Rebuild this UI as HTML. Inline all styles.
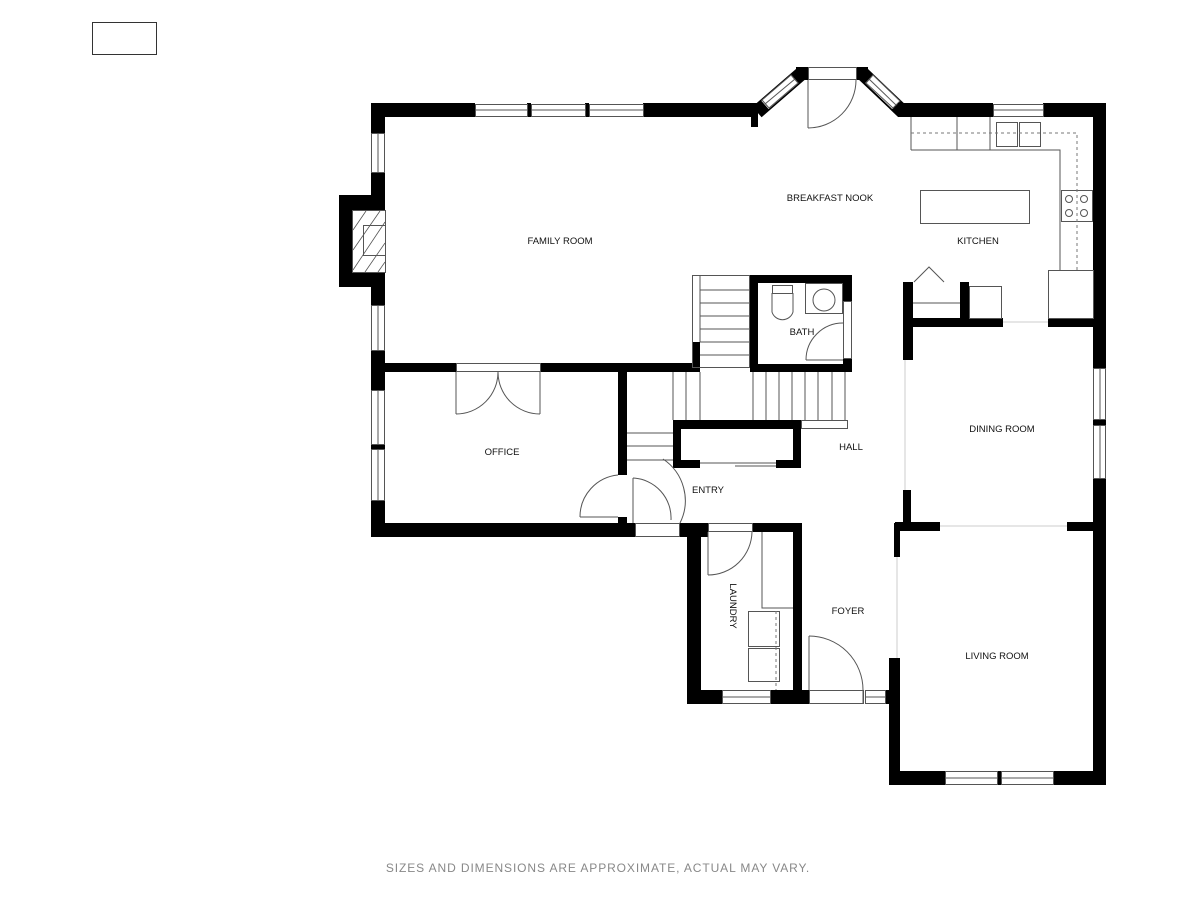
<!DOCTYPE html>
<html><head><meta charset="utf-8"><style>
html,body{margin:0;padding:0;background:#fff;width:1200px;height:900px;overflow:hidden}
svg{display:block}
text{font-family:"Liberation Sans",sans-serif;font-size:9.5px;fill:#111}
</style></head><body>
<svg width="1200" height="900" viewBox="0 0 1200 900" xmlns="http://www.w3.org/2000/svg">
<rect x="92.5" y="22.5" width="64" height="32" fill="none" stroke="#333" stroke-width="1"/>
<g stroke-linecap="butt">
<line x1="757" y1="112" x2="802" y2="73" stroke="#000" stroke-width="14"/>
<line x1="765" y1="105" x2="795" y2="79" stroke="#fff" stroke-width="11"/>
<line x1="862" y1="73" x2="903" y2="112" stroke="#000" stroke-width="14"/>
<line x1="869" y1="79" x2="896" y2="105" stroke="#fff" stroke-width="11"/>
</g>
<g fill="none" stroke="#555" stroke-width="1">
<polygon points="762,100 791,75 798,83 769,108"/>
<line x1="765" y1="104" x2="795" y2="79"/>
<polygon points="873,75 900,101 893,108 866,83"/>
<line x1="869" y1="79" x2="896" y2="105"/>
</g>
<g fill="#000">
<rect x="371" y="103" width="104" height="14"/>
<rect x="643" y="103" width="115" height="14"/>
<rect x="751" y="103" width="7" height="24"/>
<rect x="527" y="103" width="4" height="14"/>
<rect x="585" y="103" width="4" height="14"/>
<rect x="796" y="67" width="12" height="13"/>
<rect x="856" y="67" width="12" height="13"/>
<rect x="898" y="103" width="95" height="14"/>
<rect x="1043" y="103" width="63" height="14"/>
<rect x="1093" y="103" width="13" height="265"/>
<rect x="1093" y="419" width="13" height="6"/>
<rect x="1093" y="478" width="13" height="307"/>
<rect x="371" y="103" width="14" height="30"/>
<rect x="371" y="172" width="14" height="133"/>
<rect x="339" y="195" width="46" height="92"/>
<rect x="371" y="350" width="14" height="40"/>
<rect x="371" y="444" width="14" height="5"/>
<rect x="371" y="500" width="14" height="37"/>
<rect x="371" y="363" width="85" height="9"/>
<rect x="540" y="363" width="160" height="9"/>
<rect x="692" y="342" width="8" height="30"/>
<rect x="750" y="275" width="102" height="8"/>
<rect x="750" y="275" width="8" height="97"/>
<rect x="750" y="364" width="102" height="8"/>
<rect x="843" y="275" width="9" height="26"/>
<rect x="843" y="358" width="9" height="14"/>
<rect x="618" y="372" width="9" height="103"/>
<rect x="618" y="517" width="9" height="20"/>
<rect x="371" y="523" width="264" height="14"/>
<rect x="673" y="420" width="128" height="9"/>
<rect x="673" y="420" width="8" height="48"/>
<rect x="793" y="420" width="8" height="48"/>
<rect x="673" y="460" width="27" height="8"/>
<rect x="776" y="460" width="25" height="8"/>
<rect x="680" y="523" width="28" height="14"/>
<rect x="687" y="523" width="14" height="181"/>
<rect x="752" y="523" width="50" height="9"/>
<rect x="793" y="523" width="9" height="181"/>
<rect x="687" y="690" width="35" height="14"/>
<rect x="770" y="690" width="39" height="14"/>
<rect x="885" y="690" width="15" height="14"/>
<rect x="903" y="282" width="10" height="78"/>
<rect x="960" y="282" width="9" height="38"/>
<rect x="903" y="318" width="100" height="9"/>
<rect x="1048" y="318" width="52" height="9"/>
<rect x="903" y="490" width="8" height="40"/>
<rect x="895" y="522" width="45" height="9"/>
<rect x="1067" y="522" width="33" height="9"/>
<rect x="894" y="523" width="6" height="34"/>
<rect x="889" y="658" width="11" height="127"/>
<rect x="889" y="771" width="56" height="14"/>
<rect x="1053" y="771" width="53" height="14"/>
<rect x="997" y="771" width="4" height="14"/>
</g>
<g fill="none" stroke="#555" stroke-width="1">
<rect x="475.5" y="104.5" width="52" height="12"/><line x1="475" y1="110" x2="527" y2="110"/>
<rect x="531.5" y="104.5" width="54" height="12"/><line x1="531" y1="110" x2="585" y2="110"/>
<rect x="589.5" y="104.5" width="54" height="12"/><line x1="589" y1="110" x2="643" y2="110"/>
<rect x="993.5" y="104.5" width="50" height="12"/><line x1="993" y1="110" x2="1043" y2="110"/>
<rect x="371.5" y="133.5" width="13" height="39"/><line x1="378" y1="133" x2="378" y2="172"/>
<rect x="371.5" y="305.5" width="13" height="45"/><line x1="378" y1="305" x2="378" y2="350"/>
<rect x="371.5" y="390.5" width="13" height="54"/><line x1="378" y1="390" x2="378" y2="444"/>
<rect x="371.5" y="449.5" width="13" height="51"/><line x1="378" y1="449" x2="378" y2="500"/>
<rect x="1093.5" y="368.5" width="12" height="51"/><line x1="1100" y1="368" x2="1100" y2="419"/>
<rect x="1093.5" y="425.5" width="12" height="53"/><line x1="1100" y1="425" x2="1100" y2="478"/>
<rect x="945.5" y="771.5" width="52" height="13"/><line x1="945" y1="778" x2="997" y2="778"/>
<rect x="1001.5" y="771.5" width="52" height="13"/><line x1="1001" y1="778" x2="1053" y2="778"/>
<rect x="722.5" y="690.5" width="48" height="13"/><line x1="722" y1="697" x2="770" y2="697"/>
<rect x="865.5" y="690.5" width="20" height="13"/><line x1="865" y1="697" x2="885" y2="697"/>
<rect x="808.5" y="67.5" width="48" height="12"/>
<line x1="808" y1="80" x2="808" y2="128"/><path d="M808,128 A48,48 0 0 0 856,80"/>
<rect x="456.5" y="363.5" width="84" height="8"/>
<line x1="456" y1="372" x2="456" y2="414"/><path d="M456,414 A42,42 0 0 0 498,372"/>
<line x1="540" y1="372" x2="540" y2="414"/><path d="M540,414 A42,42 0 0 1 498,372"/>
<line x1="580" y1="517" x2="618" y2="517"/><path d="M580,517 A42,42 0 0 1 618,475"/>
<line x1="633" y1="478" x2="633" y2="523"/><path d="M633,478 A40,40 0 0 1 671,520"/>
<path d="M663,459 A50,50 0 0 1 680,523"/>
<rect x="635.5" y="523.5" width="44" height="13"/>
<line x1="708" y1="532" x2="708" y2="575"/><path d="M708,575 A44,44 0 0 0 752,532"/>
<rect x="708.5" y="523.5" width="44" height="8"/>
<line x1="809" y1="636" x2="809" y2="690"/><path d="M809,636 A54,54 0 0 1 863,690"/>
<line x1="863" y1="690" x2="863" y2="704"/>
<rect x="809.5" y="690.5" width="54" height="13"/>
<line x1="806" y1="360" x2="843" y2="360"/>
<path d="M806,360 A37,37 0 0 1 843,323"/>
<rect x="843.5" y="301.5" width="8" height="57"/>
<line x1="700" y1="463" x2="776" y2="463"/><line x1="735" y1="466" x2="776" y2="466"/>
<rect x="352.5" y="210.5" width="33" height="62" fill="#fff"/>
<rect x="363.5" y="225.5" width="22" height="30"/>
<rect x="692.5" y="275.5" width="57" height="92"/>
<line x1="700" y1="275" x2="700" y2="342"/>
<line x1="700" y1="290" x2="750" y2="290"/><line x1="700" y1="303" x2="750" y2="303"/>
<line x1="700" y1="316" x2="750" y2="316"/><line x1="700" y1="329" x2="750" y2="329"/>
<line x1="700" y1="342" x2="750" y2="342"/><line x1="700" y1="355" x2="750" y2="355"/>
<line x1="673" y1="372" x2="673" y2="420"/>
<line x1="686" y1="372" x2="686" y2="420"/><line x1="700" y1="372" x2="700" y2="420"/>
<line x1="753" y1="372" x2="753" y2="420"/><line x1="766" y1="372" x2="766" y2="420"/>
<line x1="779" y1="372" x2="779" y2="420"/><line x1="792" y1="372" x2="792" y2="420"/>
<line x1="805" y1="372" x2="805" y2="420"/><line x1="818" y1="372" x2="818" y2="420"/>
<line x1="832" y1="372" x2="832" y2="420"/><line x1="845" y1="372" x2="845" y2="420"/>
<rect x="801.5" y="420.5" width="46" height="8"/>
<line x1="627" y1="433" x2="673" y2="433"/><line x1="627" y1="446" x2="673" y2="446"/><line x1="627" y1="460" x2="673" y2="460"/>
<rect x="772.5" y="285.5" width="20" height="8"/>
<path d="M772,293 L772,312 A11,11 0 0 0 793,312 L793,293"/>
<rect x="805.5" y="283.5" width="37" height="30"/>
<circle cx="824" cy="300" r="11"/>
<path d="M911,150 L1060,150 L1060,270"/>
<line x1="911" y1="117" x2="911" y2="150"/>
<line x1="957" y1="117" x2="957" y2="150"/><line x1="990" y1="117" x2="990" y2="150"/>
<rect x="996.5" y="122.5" width="21" height="24"/><rect x="1019.5" y="122.5" width="21" height="24"/>
<rect x="920.5" y="190.5" width="109" height="33"/>
<rect x="1061.5" y="190.5" width="31" height="31"/>
<circle cx="1069" cy="199" r="3.5"/><circle cx="1084" cy="199" r="3.5"/>
<circle cx="1069" cy="213" r="3.5"/><circle cx="1084" cy="213" r="3.5"/>
<rect x="1048.5" y="270.5" width="45" height="48"/>
<rect x="969.5" y="286.5" width="32" height="32"/>
<path d="M914,282 L929,267 L944,282"/>
<line x1="913" y1="303" x2="960" y2="303"/>
<path d="M762,532 L762,608 L793,608"/>
<rect x="748.5" y="611.5" width="31" height="35"/><rect x="748.5" y="648.5" width="31" height="33"/>
</g>
<g fill="none" stroke="#777" stroke-width="1" stroke-dasharray="3,3">
<path d="M911,133 L1077,133 L1077,270"/>
<line x1="776" y1="611" x2="776" y2="690"/>
</g>
<g fill="none" stroke="#555" stroke-width="0.8">
<path d="M353,230 L366,211 M353,250 L380,211 M353,270 L385,222 M365,272 L385,243 M378,272 L385,262"/>
</g>
<g fill="none" stroke="#ccc" stroke-width="1">
<line x1="905" y1="360" x2="905" y2="490"/>
<line x1="940" y1="526" x2="1067" y2="526"/>
<line x1="897" y1="557" x2="897" y2="658"/>
<line x1="1003" y1="322" x2="1048" y2="322"/>
</g>
<text x="560" y="244" text-anchor="middle">FAMILY ROOM</text>
<text x="830" y="201" text-anchor="middle">BREAKFAST NOOK</text>
<text x="978" y="244" text-anchor="middle">KITCHEN</text>
<text x="802" y="335" text-anchor="middle">BATH</text>
<text x="502" y="455" text-anchor="middle">OFFICE</text>
<text x="851" y="450" text-anchor="middle">HALL</text>
<text x="708" y="493" text-anchor="middle">ENTRY</text>
<text x="1002" y="432" text-anchor="middle">DINING ROOM</text>
<text x="997" y="659" text-anchor="middle">LIVING ROOM</text>
<text x="848" y="614" text-anchor="middle">FOYER</text>
<text x="0" y="0" text-anchor="middle" transform="translate(730,606) rotate(90)">LAUNDRY</text>
<text x="598" y="872" text-anchor="middle" style="fill:#888;font-size:12px;letter-spacing:0.9px">SIZES AND DIMENSIONS ARE APPROXIMATE, ACTUAL MAY VARY.</text>
</svg>
</body></html>
